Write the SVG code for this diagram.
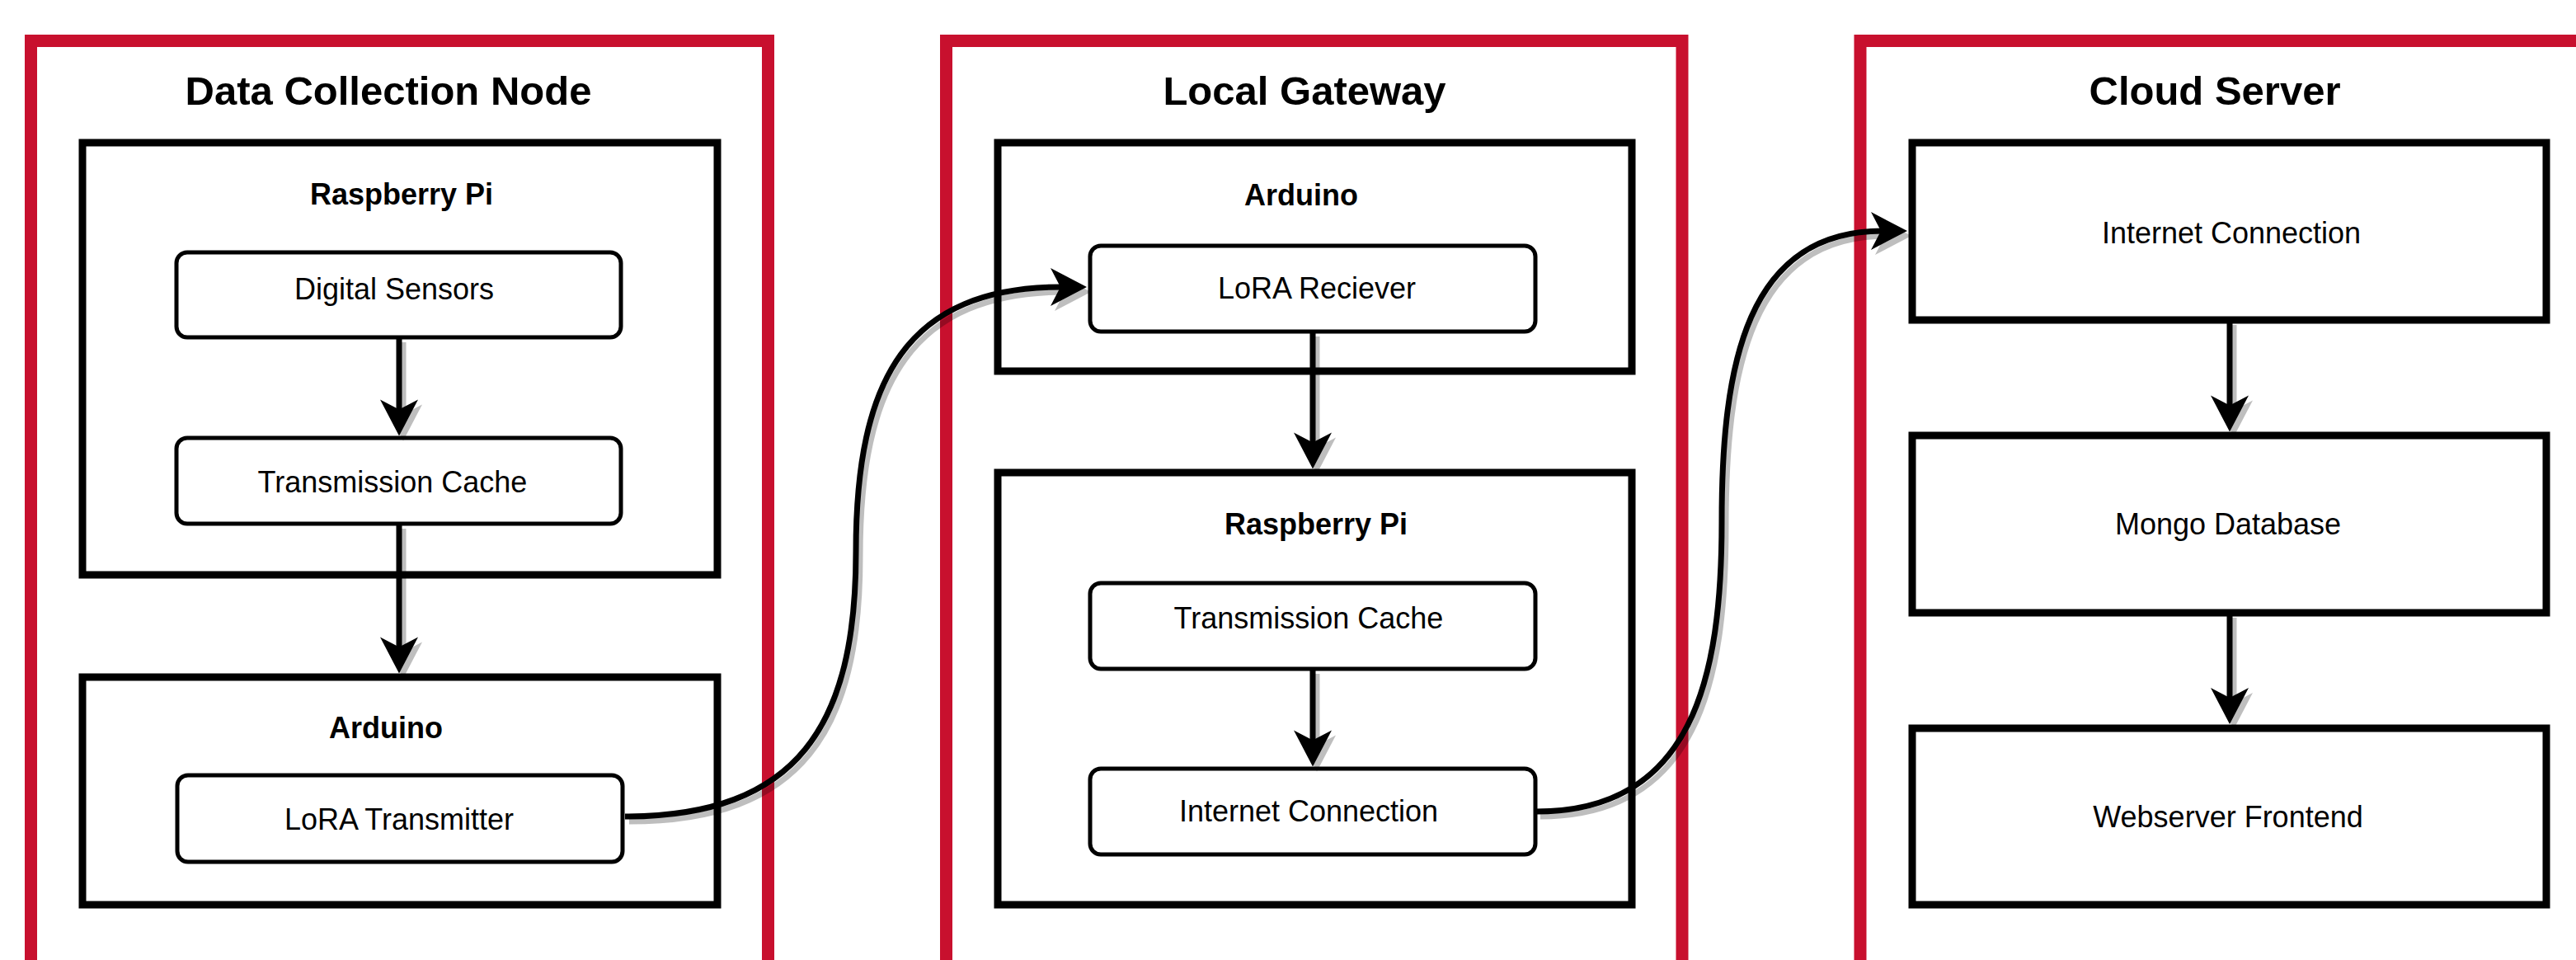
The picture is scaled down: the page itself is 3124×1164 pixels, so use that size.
<svg xmlns="http://www.w3.org/2000/svg" width="3124" height="1164" viewBox="0 0 3124 1164">
<style>
.frame{fill:none;stroke:#C8102E;stroke-width:15}
.cont{fill:#fff;stroke:#000;stroke-width:9}
.box{fill:#fff;stroke:#000;stroke-width:5}
.title{font-family:"Liberation Sans",Arial,Helvetica,sans-serif;font-weight:bold;font-size:49px;text-anchor:middle;fill:#000}
.sub{font-family:"Liberation Sans",Arial,Helvetica,sans-serif;font-weight:bold;font-size:36px;text-anchor:middle;fill:#000}
.lbl{font-family:"Liberation Sans",Arial,Helvetica,sans-serif;font-size:36px;text-anchor:middle;fill:#000}
.edge{fill:none;stroke:#000;stroke-width:7;marker-end:url(#arr)}
</style>
<defs>
<marker id="arr" markerUnits="userSpaceOnUse" viewBox="-46 -25 50 50" markerWidth="50" markerHeight="50" refX="-30" refY="0" orient="auto" overflow="visible">
<path d="M0,0 L-44,-23 L-32,0 L-44,23 Z" fill="#000"/>
</marker>
</defs>
<rect x="0" y="0" width="3124" height="1164" fill="#fff"/>

<g id="frame-data-collection">
<rect class="frame" x="37.5" y="49.5" width="894" height="1200"/>
<text class="title" x="471" y="127">Data Collection Node</text>
</g>
<g id="frame-local-gateway">
<rect class="frame" x="1147.5" y="49.5" width="892.5" height="1200"/>
<text class="title" x="1582" y="127">Local Gateway</text>
</g>
<g id="frame-cloud-server">
<rect class="frame" x="2256" y="49.5" width="900" height="1200"/>
<text class="title" x="2686" y="127">Cloud Server</text>
</g>

<g id="dc-raspberry-pi">
<rect class="cont" x="100" y="173" width="770" height="524"/>
<text class="sub" x="487" y="248">Raspberry Pi</text>
</g>
<g id="dc-arduino">
<rect class="cont" x="100" y="821" width="770" height="276"/>
<text class="sub" x="468" y="895">Arduino</text>
</g>
<g id="gw-arduino">
<rect class="cont" x="1210" y="173" width="769" height="277"/>
<text class="sub" x="1578" y="249">Arduino</text>
</g>
<g id="gw-raspberry-pi">
<rect class="cont" x="1210" y="573" width="769" height="524"/>
<text class="sub" x="1596" y="648">Raspberry Pi</text>
</g>

<g id="dc-digital-sensors">
<rect class="box" x="214" y="306" width="539" height="103" rx="13"/>
<text class="lbl" x="478" y="363">Digital Sensors</text>
</g>
<g id="dc-transmission-cache">
<rect class="box" x="214" y="531" width="539" height="104" rx="13"/>
<text class="lbl" x="476" y="597">Transmission Cache</text>
</g>
<g id="dc-lora-transmitter">
<rect class="box" x="215" y="940" width="540" height="105" rx="13"/>
<text class="lbl" x="484" y="1006">LoRA Transmitter</text>
</g>
<g id="gw-lora-reciever">
<rect class="box" x="1322" y="298" width="540" height="104" rx="13"/>
<text class="lbl" x="1597" y="362">LoRA Reciever</text>
</g>
<g id="gw-transmission-cache">
<rect class="box" x="1322" y="707" width="540" height="104" rx="13"/>
<text class="lbl" x="1587" y="762">Transmission Cache</text>
</g>
<g id="gw-internet-connection">
<rect class="box" x="1322" y="932" width="540" height="104" rx="13"/>
<text class="lbl" x="1587" y="996">Internet Connection</text>
</g>

<g id="cs-internet-connection">
<rect class="cont" x="2319" y="173" width="769" height="215"/>
<text class="lbl" x="2706" y="295">Internet Connection</text>
</g>
<g id="cs-mongo-database">
<rect class="cont" x="2319" y="528" width="769" height="215"/>
<text class="lbl" x="2702" y="648">Mongo Database</text>
</g>
<g id="cs-webserver-frontend">
<rect class="cont" x="2319" y="883" width="769" height="214"/>
<text class="lbl" x="2702" y="1003">Webserver Frontend</text>
</g>

<g id="connectors">
<g id="shadows" opacity="0.25" transform="translate(5,6)">
<path class="edge" d="M484 409 V498.5"/>
<path class="edge" d="M484 635 V786.5"/>
<path class="edge" d="M1592 402 V538.5"/>
<path class="edge" d="M1592 811 V899.5"/>
<path class="edge" d="M2704 388 V493.5"/>
<path class="edge" d="M2704 743 V848"/>
<path class="edge" d="M758 990 C968 990 1038 879 1038 669 C1038 459 1100 348 1288 348"/>
<path class="edge" d="M1863 984 C2053 984 2088 822 2088 632 C2088 442 2118 280 2283 280"/>
</g>
<path class="edge" d="M484 409 V498.5"/>
<path class="edge" d="M484 635 V786.5"/>
<path class="edge" d="M1592 402 V538.5"/>
<path class="edge" d="M1592 811 V899.5"/>
<path class="edge" d="M2704 388 V493.5"/>
<path class="edge" d="M2704 743 V848"/>
<path class="edge" d="M758 990 C968 990 1038 879 1038 669 C1038 459 1100 348 1288 348"/>
<path class="edge" d="M1863 984 C2053 984 2088 822 2088 632 C2088 442 2118 280 2283 280"/>
</g>
</svg>
